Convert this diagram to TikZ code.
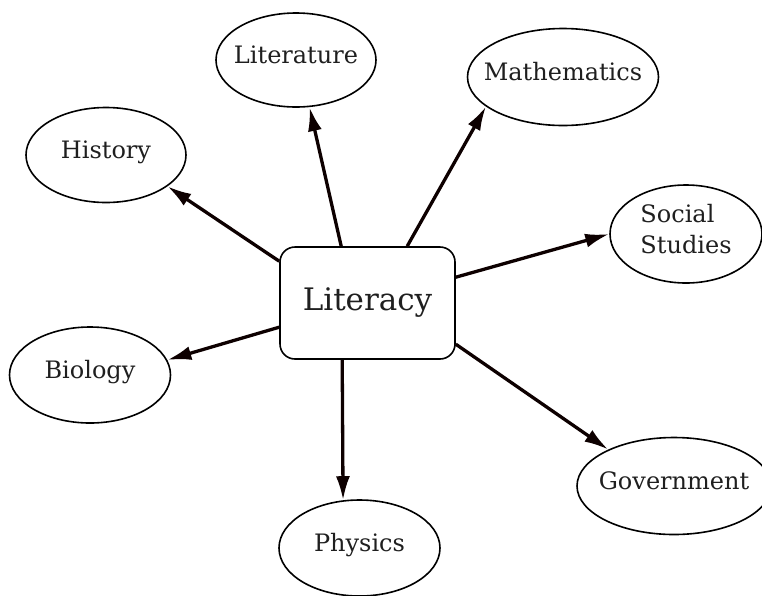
\documentclass[tikz,border=0pt]{standalone}
\usepackage{fontspec}
\setmainfont{DejaVu Serif}
\usetikzlibrary{shapes.geometric,arrows.meta,calc}
\tikzset{
  topic/.style={ellipse, draw=black, line width=1.6pt, inner xsep=-40pt, inner ysep=0pt,
    text height=18pt, text depth=12pt,
    font=\fontsize{24}{31}\selectfont, text=black!88},
  hub/.style={rectangle, rounded corners=15pt, draw=black, line width=1.6pt,
    inner sep=0pt, minimum width=175pt, minimum height=112pt,
    text height=24pt, text depth=10pt,
    font=\fontsize{31}{36}\selectfont, text=black!88},
  link/.style={line width=3.3pt, draw=black!95!red, -{Latex[length=24pt,width=14pt]}}
}
\begin{document}
\begin{tikzpicture}[x=1pt,y=-1pt]
\useasboundingbox (0,0) rectangle (762,595);
\node[hub] (box) at (367.5,303) {Literacy};
\node[topic, minimum width=160pt, minimum height=94pt] (lit) at (296,60) {Literature};
\node[topic, minimum width=160pt, minimum height=95pt] (hist) at (106,155) {History};
\node[topic, minimum width=191pt, minimum height=97pt] (math) at (563,77) {Mathematics};
\node[topic, minimum width=152pt, minimum height=98pt, align=left,
      text height=49pt, text depth=10pt] (soc) at (686,234) {Social\\Studies};
\node[topic, minimum width=161pt, minimum height=96pt] (bio) at (90,375) {Biology};
\node[topic, minimum width=194pt, minimum height=97pt] (gov) at (674,486) {Government};
\node[topic, minimum width=161pt, minimum height=96pt] (phys) at (359.5,548) {Physics};
\draw[link] ($(box.north west)+(62,0)$) -- (lit.-74);
\draw[link] ($(box.north west)+(128,0)$) -- (math.201);
\draw[link] ($(box.north west)+(0,15)$) -- (hist.-27);
\draw[link] ($(box.north east)+(0,31)$) -- (soc.west);
\draw[link] ($(box.north east)+(0,98)$) -- (gov.151);
\draw[link] ($(box.north west)+(0,81)$) -- (bio.11);
\draw[link] ($(box.south west)+(63,0)$) -- (phys.109);
\end{tikzpicture}
\end{document}
